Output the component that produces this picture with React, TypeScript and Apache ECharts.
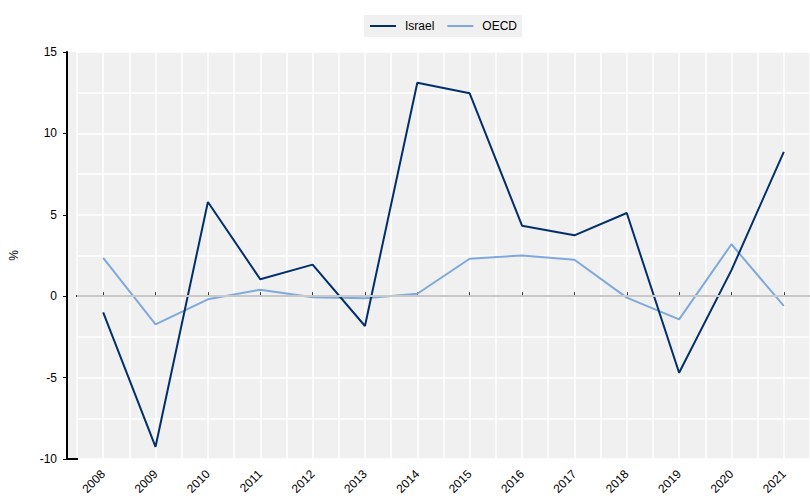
import React, { useEffect, useRef } from "react";
import * as echarts from "echarts";

const years = ["2008","2009","2010","2011","2012","2013","2014","2015","2016","2017","2018","2019","2020","2021"];
const israel = [-1.0, -9.25, 5.79, 1.04, 1.94, -1.83, 13.11, 12.46, 4.33, 3.74, 5.11, -4.7, 1.6, 8.87];
const oecd = [2.35, -1.73, -0.19, 0.4, -0.07, -0.13, 0.15, 2.3, 2.5, 2.24, -0.09, -1.42, 3.19, -0.6];
const yMin = -10;
const yMax = 15;

const FONT = "'Liberation Sans', Arial, sans-serif";

export default function App() {
  const ref = useRef<HTMLDivElement>(null);
  useEffect(() => {
    const chart = echarts.init(ref.current!, null, { renderer: "svg" });
    chart.setOption({
      animation: false,
      textStyle: { fontFamily: FONT },
      legend: {
        top: 15,
        left: 364,
        data: [
          { name: "Israel", icon: "rect" },
          { name: "OECD", icon: "rect" },
        ],
        backgroundColor: "#f0f0f0",
        padding: [4, 5, 4, 6],
        itemWidth: 26,
        itemHeight: 2,
        itemGap: 13,
        borderRadius: 0,
        textStyle: { fontFamily: FONT, fontSize: 12, color: "#000", padding: [0, 0, 0, 4], lineHeight: 14 },
      },
      graphic: [
        {
          type: "rect",
          z: -100,
          silent: true,
          shape: { x: 67, y: 52, width: 745, height: 407 },
          style: { fill: "#f0f0f0" },
        },
        {
          type: "line",
          z: 100,
          silent: true,
          shape: { x1: 66, y1: 459, x2: 78, y2: 459 },
          style: { stroke: "#000", lineWidth: 2 },
        },
      ],
      grid: { left: 77, right: -2, top: 52, bottom: 40, containLabel: false },
      xAxis: [
        {
          type: "category",
          data: years,
          boundaryGap: true,
          axisLine: { lineStyle: { color: "#000", width: 2 } },
          axisTick: { show: true, alignWithLabel: true, inside: true, length: 4, lineStyle: { color: "#333" } },
          axisLabel: { rotate: 45, fontSize: 12, color: "#000", margin: 13, fontFamily: FONT },
          splitLine: { show: false },
        },
        {
          type: "value",
          min: 2007.5,
          max: 2021.5,
          interval: 0.5,
          position: "bottom",
          axisLine: { show: false },
          axisTick: { show: false },
          axisLabel: { show: false },
          splitLine: { show: true, lineStyle: { color: "#ffffff", width: 1.5 } },
        },
      ],
      yAxis: [
        {
          type: "value",
          min: yMin,
          max: yMax,
          interval: 5,
          offset: 10,
          name: "%",
          nameLocation: "middle",
          nameGap: 47,
          nameRotate: 90,
          nameTextStyle: { fontSize: 12, color: "#000", fontFamily: FONT },
          axisLine: { show: true, lineStyle: { color: "#000", width: 2 } },
          axisTick: { show: true, length: 4, lineStyle: { color: "#000" } },
          axisLabel: { fontSize: 12, color: "#000", margin: 10, fontFamily: FONT },
          splitLine: { show: false },
        },
        {
          type: "value",
          min: yMin,
          max: yMax,
          interval: 2.5,
          axisLine: { show: false },
          axisTick: { show: false },
          axisLabel: { show: false },
          splitLine: { show: true, lineStyle: { color: "#ffffff", width: 1.5 } },
        },
      ],
      series: [
        {
          name: "zero",
          type: "line",
          data: [],
          z: 1,
          silent: true,
          markLine: {
            silent: true,
            symbol: "none",
            label: { show: false },
            lineStyle: { color: "#c8c8c8", width: 2, type: "solid" },
            data: [{ yAxis: 0 }],
          },
        },
        {
          name: "Israel",
          type: "line",
          data: israel,
          symbol: "none",
          z: 3,
          lineStyle: { color: "#002f6c", width: 2 },
          itemStyle: { color: "#002f6c" },
        },
        {
          name: "OECD",
          type: "line",
          data: oecd,
          symbol: "none",
          z: 2,
          lineStyle: { color: "#7fa9dc", width: 2 },
          itemStyle: { color: "#7fa9dc" },
        },
      ],
    });
    return () => chart.dispose();
  }, []);
  return <div ref={ref} style={{ width: 810, height: 499, position: "absolute", left: 0, top: 0 }} />;
}
